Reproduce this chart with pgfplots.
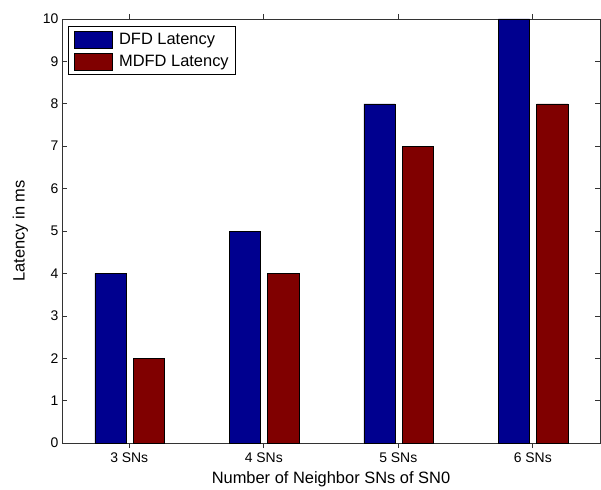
\documentclass[border=0pt]{standalone}
\usepackage{fontspec}
\setmainfont{Liberation Sans}
\usepackage{pgfplots}
\pgfplotsset{compat=1.18}
\definecolor{dfdblue}{RGB}{0,0,143}
\definecolor{mdfdred}{RGB}{128,0,0}
\begin{document}
\begin{tikzpicture}
\begin{axis}[
  scale only axis, width=538bp, height=424bp,
  xmin=0.5, xmax=4.5, ymin=0, ymax=10,
  xtick={1,2,3,4}, xticklabels={3 SNs,4 SNs,5 SNs,6 SNs},
  ytick={0,1,...,10},
  tick align=inside, major tick length=5bp,
  tick style={black!80, line width=0.6bp},
  axis line style={black!80, line width=0.6bp},
  tick label style={font=\fontsize{14}{16}\selectfont},
  /pgf/number format/assume math mode=true,
  xticklabel style={yshift=-1bp},
  label style={font=\fontsize{16.5}{18}\selectfont},
  xlabel={Number of Neighbor SNs of SN0},
  xlabel style={yshift=-2bp},
  ylabel={Latency in ms},
  ylabel style={yshift=8bp},
  ybar, bar width=0.232,
  legend style={at={(0.011,0.983)}, anchor=north west,
    font=\fontsize{16.5}{18}\selectfont, draw=black, line width=0.6bp,
    inner xsep=6bp, inner ysep=4bp, row sep=5bp, column sep=6bp,
    nodes={inner sep=0.5bp}, legend cell align=left},
  legend image code/.code={\draw[#1, draw=black, line width=0.4bp] (0bp,-8.5bp) rectangle (38bp,8.5bp);},
]
\addplot[fill=dfdblue, draw=black, line width=0.4bp, bar shift=-0.14] coordinates {(1,4) (2,5) (3,8) (4,10)};
\addplot[fill=mdfdred, draw=black, line width=0.4bp, bar shift=0.145] coordinates {(1,2) (2,4) (3,7) (4,8)};
\legend{DFD Latency, MDFD Latency}
\end{axis}
\useasboundingbox ([xshift=-62bp,yshift=-43bp]current axis.south west) rectangle ([xshift=1bp,yshift=19bp]current axis.north east);
\end{tikzpicture}
\end{document}
